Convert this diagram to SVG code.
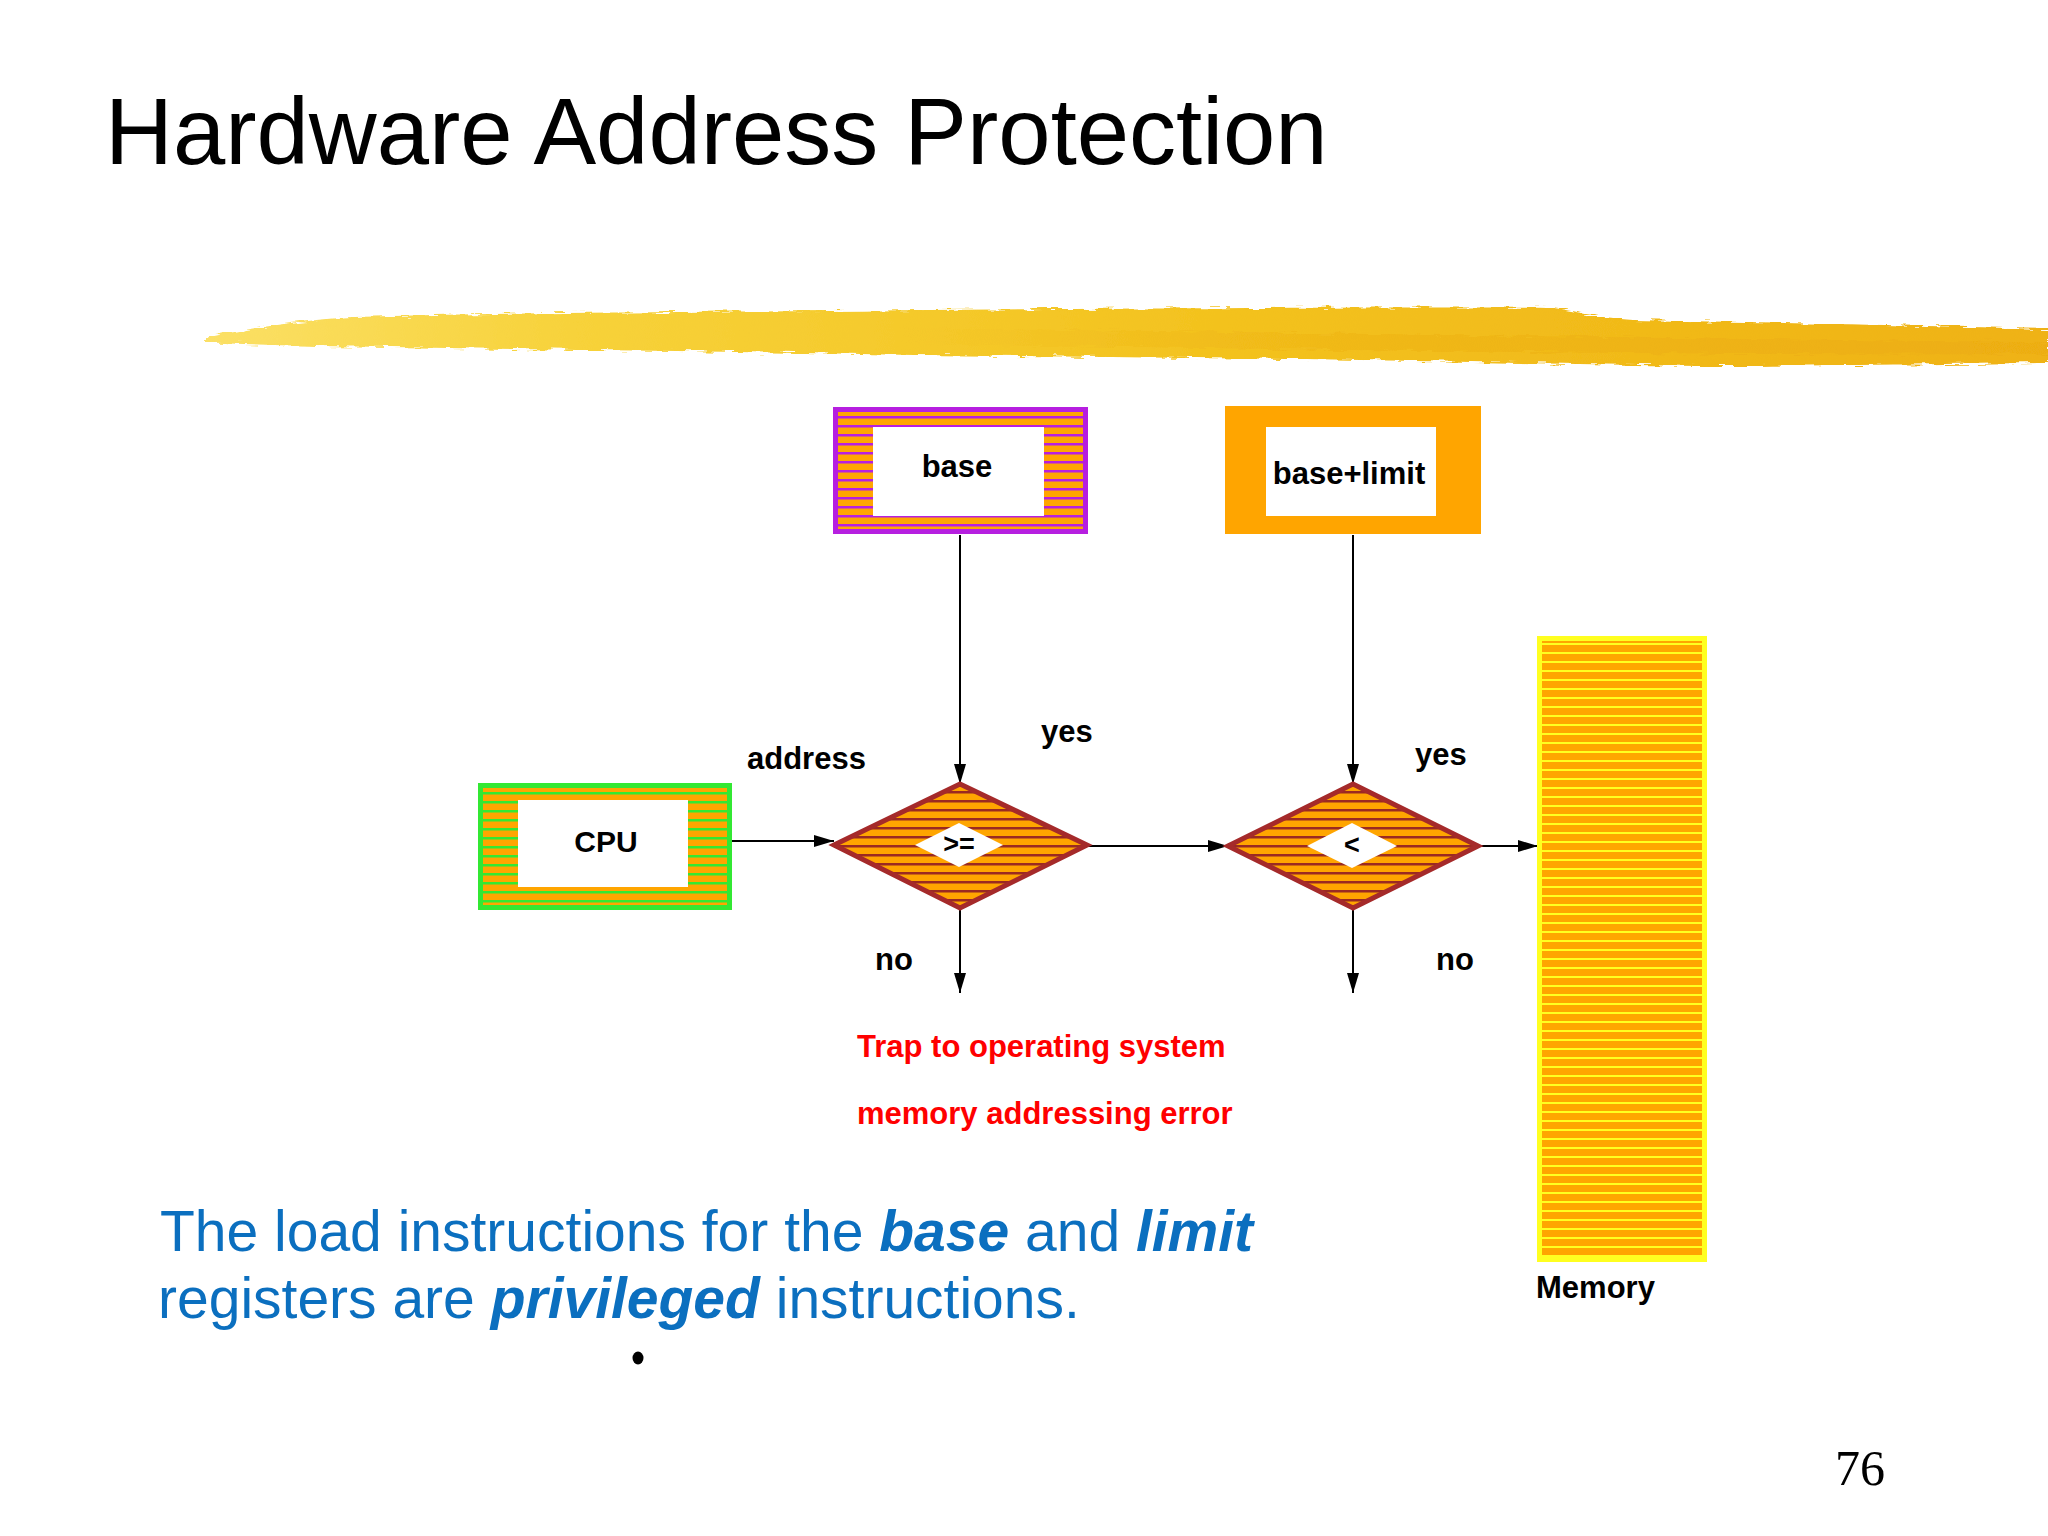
<svg xmlns="http://www.w3.org/2000/svg" width="2048" height="1536" viewBox="0 0 2048 1536">
<style>
.lbl{font-family:"Liberation Sans",Arial,Helvetica,sans-serif;font-weight:bold;font-size:31px;fill:#000}
.mid{text-anchor:middle}
.red{fill:#ff0000}
.conn line{stroke:#000;stroke-width:2;fill:none;marker-end:url(#arr)}
.dia{stroke:#a52a2a;stroke-width:5;stroke-linejoin:miter}
.title{font-family:"Liberation Sans",Arial,sans-serif;font-size:94px;fill:#000}
.body{font-family:"Liberation Sans",Arial,sans-serif;font-size:57px;fill:#0b6fbf}
.bi{font-weight:bold;font-style:italic}
</style>
<defs>
<pattern id="pPurple" patternUnits="userSpaceOnUse" x="0" y="412" width="20" height="9">
<rect width="20" height="9" fill="#ffa500"/><rect y="4" width="20" height="2.5" fill="#b61fe0"/>
</pattern>
<pattern id="pGreen" patternUnits="userSpaceOnUse" x="0" y="788" width="20" height="9">
<rect width="20" height="9" fill="#ffa500"/><rect y="4" width="20" height="2.5" fill="#33e833"/>
</pattern>
<pattern id="pBrown" patternUnits="userSpaceOnUse" x="0" y="786" width="20" height="9">
<rect width="20" height="9" fill="#ffa500"/><rect y="5" width="20" height="2.5" fill="#9a2a22"/>
</pattern>
<pattern id="pYellow" patternUnits="userSpaceOnUse" x="0" y="640" width="20" height="9">
<rect width="20" height="9" fill="#ffa500"/><rect y="3" width="20" height="2" fill="#ffff20"/>
</pattern>
<linearGradient id="brush" x1="0" y1="0" x2="1" y2="0">
<stop offset="0" stop-color="#fbe066"/>
<stop offset="0.2" stop-color="#f7d23a"/>
<stop offset="0.55" stop-color="#f3c21e"/>
<stop offset="1" stop-color="#efb214"/>
</linearGradient>
<linearGradient id="shade" x1="0" y1="0" x2="1" y2="0">
<stop offset="0" stop-color="#eaa80e" stop-opacity="0"/>
<stop offset="0.4" stop-color="#eaa80e" stop-opacity="0.3"/>
<stop offset="1" stop-color="#eaa80e" stop-opacity="0.4"/>
</linearGradient>
<filter id="rough" x="-2%" y="-50%" width="104%" height="200%">
<feTurbulence type="fractalNoise" baseFrequency="0.06 0.4" numOctaves="2" seed="3"/>
<feDisplacementMap in="SourceGraphic" scale="8" xChannelSelector="R" yChannelSelector="G"/>
</filter>
<marker id="arr" markerUnits="userSpaceOnUse" markerWidth="20" markerHeight="12" viewBox="0 0 20 12" refX="20" refY="6" orient="auto">
<path d="M0,0 L20,6 L0,12 z" fill="#000"/>
</marker>
</defs>
<rect width="2048" height="1536" fill="#ffffff"/>

<g id="title">
<text class="title" x="105" y="164">Hardware Address Protection</text>
</g>

<g id="brush-stroke" filter="url(#rough)">
<path d="M205,338 C240,330 300,320 353,317 C460,314 560,313 679,312 C820,311 940,310 1045,309 C1250,308 1450,307 1554,308 C1580,312 1600,318 1633,320 C1800,323 1950,326 2048,329 L2048,363 C1950,364 1800,366 1698,366 C1560,364 1430,361 1306,359 C1180,358 1040,356 914,355 C800,353 690,351 588,350 C500,349 440,348 392,347 C320,346 250,345 205,342 Z" fill="url(#brush)"/>
<path d="M900,328 C1300,332 1600,338 2048,342 L2048,354 C1700,356 1350,350 900,344 Z" fill="url(#shade)"/>
</g>

<g id="connectors" class="conn">
<line x1="960" y1="535" x2="960" y2="784"/>
<line x1="1353" y1="535" x2="1353" y2="784"/>
<line x1="732" y1="841" x2="834" y2="841"/>
<line x1="1087" y1="846" x2="1228" y2="846"/>
<line x1="1478" y1="846" x2="1538" y2="846"/>
<line x1="960" y1="908" x2="960" y2="993"/>
<line x1="1353" y1="908" x2="1353" y2="993"/>
</g>

<g id="base">
<rect x="833" y="407" width="255" height="127" fill="#b61fe0"/>
<rect x="838" y="412" width="245" height="117" fill="url(#pPurple)"/>
<rect x="873" y="427" width="171" height="89" fill="#ffffff"/>
<text class="lbl mid" x="957" y="477">base</text>
</g>

<g id="base-limit">
<rect x="1225" y="406" width="256" height="128" fill="#ffa500"/>
<rect x="1266" y="427" width="170" height="89" fill="#ffffff"/>
<text class="lbl mid" x="1349" y="484">base+limit</text>
</g>

<g id="cpu">
<rect x="478" y="783" width="254" height="127" fill="#33e833"/>
<rect x="483" y="788" width="244" height="117" fill="url(#pGreen)"/>
<rect x="518" y="800" width="170" height="87" fill="#ffffff"/>
<text class="lbl mid" x="606" y="852" style="font-size:30px">CPU</text>
</g>

<g id="cmp-ge">
<polygon class="dia" points="834,845 960,784 1087,845 960,908" fill="url(#pBrown)"/>
<polygon points="915,845 959,823 1003,845 959,867" fill="#ffffff"/>
<text class="lbl mid" x="959" y="853" style="font-size:27px">&gt;=</text>
</g>

<g id="cmp-lt">
<polygon class="dia" points="1228,846 1353,784 1478,846 1353,908" fill="url(#pBrown)"/>
<polygon points="1307,846 1352,823 1397,846 1352,868" fill="#ffffff"/>
<text class="lbl mid" x="1352" y="854" style="font-size:27px">&lt;</text>
</g>

<g id="memory">
<rect x="1537" y="636" width="170" height="626" fill="#ffff20"/>
<rect x="1542" y="641" width="160" height="616" fill="url(#pYellow)"/>
<text class="lbl" x="1536" y="1298">Memory</text>
</g>

<g id="labels">
<text class="lbl" x="747" y="769">address</text>
<text class="lbl" x="1041" y="742">yes</text>
<text class="lbl" x="1415" y="765">yes</text>
<text class="lbl" x="875" y="970">no</text>
<text class="lbl" x="1436" y="970">no</text>
</g>

<g id="trap">
<text class="lbl red" x="857" y="1057">Trap to operating system</text>
<text class="lbl red" x="857" y="1124">memory addressing error</text>
</g>

<g id="note">
<text class="body" x="160" y="1251">The load instructions for the <tspan class="bi">base</tspan> and <tspan class="bi">limit</tspan></text>
<text class="body" x="158" y="1318">registers are <tspan class="bi">privileged</tspan> instructions.</text>
<ellipse cx="638" cy="1358" rx="5.5" ry="6.5" fill="#000"/>
</g>

<g id="page-number">
<text x="1835" y="1485" style="font-family:'Liberation Serif','Times New Roman',serif;font-size:50px;fill:#000">76</text>
</g>
</svg>
